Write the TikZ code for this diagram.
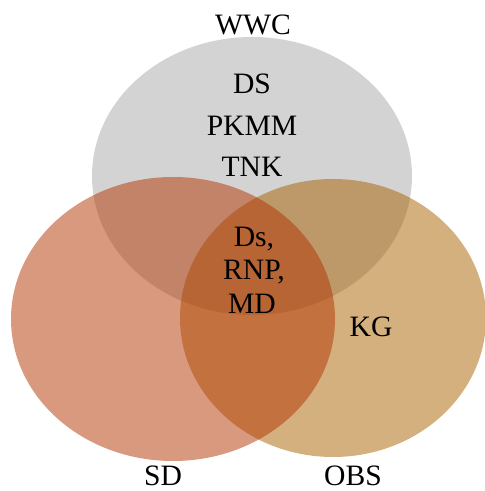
\documentclass[tikz,border=0pt]{standalone}
\usepackage{fontspec}
\setmainfont{Liberation Serif}
\usepackage{xcolor}
\definecolor{wwcgray}{RGB}{168,168,168}
\definecolor{sdred}{RGB}{177,51,0}
\definecolor{obstan}{RGB}{169,97,0}
\tikzset{
  set/.style={fill opacity=0.5},
  lbl/.style={inner sep=0pt, anchor=base, font=\fontsize{14.8}{17}\selectfont}
}

\begin{document}
\begin{tikzpicture}[x=0.5pt, y=0.5pt]
  \useasboundingbox (0,0) rectangle (484,491);
  % the three sets
  \fill[set, wwcgray] (252,315) ellipse [x radius=160, y radius=139];
  \fill[set, obstan] (333,173) ellipse [x radius=153, y radius=139];
  \fill[set, sdred] (173,172) ellipse [x radius=162, y radius=142];

  % set names
  \node[lbl] (wwc) at (253,456) {WWC};
  \node[lbl] (sd) at (163,5) {SD};
  \node[lbl] (obs) at (353,5) {OBS};

  % members
  \node[lbl] (ds) at (252,397) {DS};
  \node[lbl] (pkmm) at (252,355) {PKMM};
  \node[lbl] (tnk) at (252,314) {TNK};
  \node[lbl] (dsc) at (254,244) {Ds,};
  \node[lbl] (rnp) at (254,211) {RNP,};
  \node[lbl] (md) at (252,177) {MD};
  \node[lbl] (kg) at (371,154) {KG};
\end{tikzpicture}
\end{document}
